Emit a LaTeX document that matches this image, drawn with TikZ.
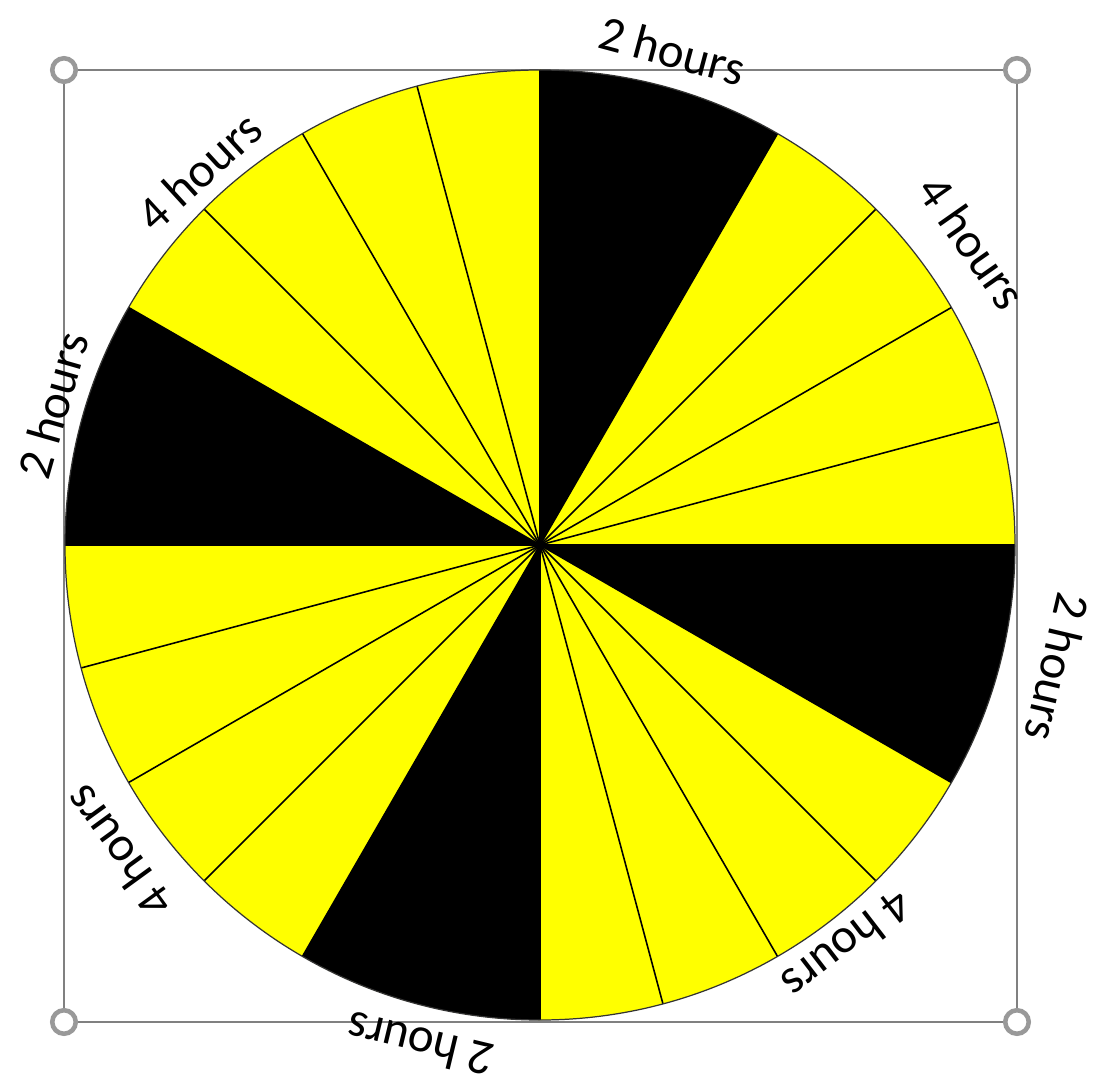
\documentclass[tikz,border=0pt]{standalone}
\usepackage{fontspec}
\setmainfont{Carlito}
\usetikzlibrary{positioning}
\definecolor{dialyellow}{RGB}{255,255,0}
\definecolor{framegray}{RGB}{128,128,128}

\begin{document}
\begin{tikzpicture}[x=0.02cm, y=0.02cm,
    wedge/.style={draw=black, line width=0.9pt},
    frameline/.style={draw=framegray, line width=1.3pt},
    handle/.style={circle, fill=white, draw=framegray!80, line width=2.6pt,
                   minimum size=0.47cm, inner sep=0pt},
    hourlabel/.style={font=\fontsize{28}{31}\selectfont, inner sep=0pt}
]
\useasboundingbox (-540,-540) rectangle (555,545);

% selection frame
\draw[frameline] (-476,-477) rectangle (477,475);

% dial
\fill[dialyellow] (0,0) circle (475);
\foreach \s in {60,150,240,330}
    \fill[black] (0,0) -- (\s:475) arc[start angle=\s, end angle=\s+30, radius=475] -- cycle;
\foreach \a in {0,15,...,345}
    \draw[wedge] (0,0) -- (\a:475);
\draw[gray!40!black, line width=0.7pt] (0,0) circle (475);

% handles
\node[handle] (hnw) at (-476,475) {};
\node[handle] (hne) at (477,475) {};
\node[handle] (hsw) at (-476,-477) {};
\node[handle] (hse) at (477,-477) {};

% labels
\foreach \ang/\rad/\txt [count=\i] in {75/512/2 hours, 35/528/4 hours,
        -13.3/532/2 hours, -52.4/505/4 hours, -103.5/514/2 hours,
        216/522/4 hours, 164/507/2 hours, 132.4/506/4 hours}
    \node[hourlabel, rotate=\ang-90] (hours\i) at (\ang:\rad) {\txt};
\end{tikzpicture}
\end{document}
